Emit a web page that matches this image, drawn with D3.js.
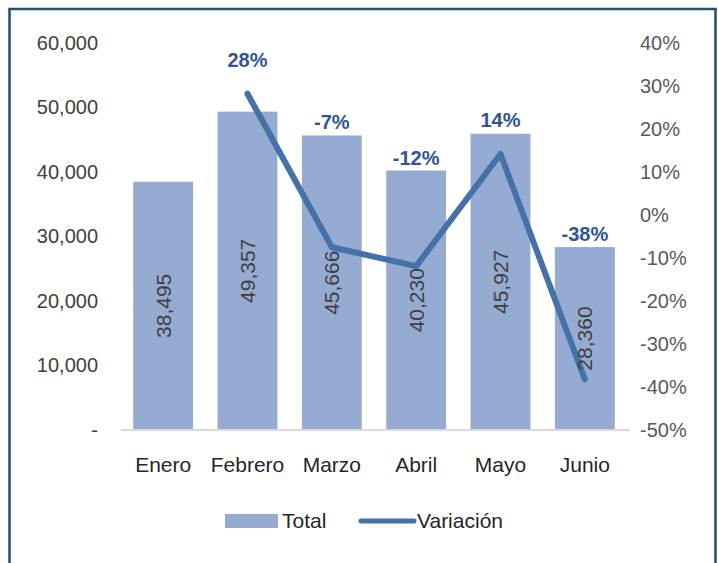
<!DOCTYPE html>
<html>
<head>
<meta charset="utf-8">
<script src="https://cdn.jsdelivr.net/npm/d3@7"></script>
<style>
  body { margin: 0; background: #fff; }
  svg text { font-family: "Liberation Sans", Arial, sans-serif; }
</style>
</head>
<body>
<div id="chart"></div>
<script>
// data
const MONTHS = ["Enero", "Febrero", "Marzo", "Abril", "Mayo", "Junio"];
const TOTALS = [38495, 49357, 45666, 40230, 45927, 28360];
const VARIATION = [null, 0.282, -0.075, -0.119, 0.142, -0.382];
const VARIATION_LABELS = ["", "28%", "-7%", "-12%", "14%", "-38%"];
const LEFT_TICKS = [0, 10000, 20000, 30000, 40000, 50000, 60000];
const RIGHT_TICKS = [-0.5, -0.4, -0.3, -0.2, -0.1, 0, 0.1, 0.2, 0.3, 0.4];

const W = 718, H = 563;
const margin = { top: 43, right: 91, bottom: 133, left: 121 };
const width = W - margin.left - margin.right;
const height = H - margin.top - margin.bottom;

const svg = d3.select("#chart").append("svg")
  .attr("width", W).attr("height", H);

// frame
svg.append("rect")
  .attr("x", 9.5).attr("y", 9)
  .attr("width", 706).attr("height", 580)
  .attr("fill", "none")
  .attr("stroke", "#1f4e79")
  .attr("stroke-width", 2.5);

const chart = svg.append("g").attr("transform", `translate(${margin.left},${margin.top})`);

// scales
const x = d3.scaleBand().domain(MONTHS).range([0, width]).paddingInner(0.29).paddingOuter(0.145);
const yLeft = d3.scaleLinear().domain([0, 60000]).range([height, 0]);
const yRight = d3.scaleLinear().domain([-0.5, 0.4]).range([height, 0]);

const rows = MONTHS.map((m, i) => ({ month: m, total: TOTALS[i], variation: VARIATION[i], label: VARIATION_LABELS[i] }));

// hyphen instead of unicode minus
const pct = (d) => `${Math.round(d * 100)}%`;

// left axis
const leftAxis = chart.append("g")
  .call(d3.axisLeft(yLeft).tickValues(LEFT_TICKS).tickSize(0).tickPadding(23)
    .tickFormat((d) => d === 0 ? "-" : d3.format(",")(d)));
leftAxis.select(".domain").remove();
leftAxis.selectAll("text").attr("font-size", 20).attr("fill", "#404040")
  .attr("font-family", "Liberation Sans, sans-serif");

// right axis
const rightAxis = chart.append("g")
  .attr("transform", `translate(${width},0)`)
  .call(d3.axisRight(yRight).tickValues(RIGHT_TICKS).tickSize(0).tickPadding(13)
    .tickFormat(pct));
rightAxis.select(".domain").remove();
rightAxis.selectAll("text").attr("font-size", 20).attr("fill", "#595959")
  .attr("font-family", "Liberation Sans, sans-serif");

// bars
chart.selectAll(".bar")
  .data(rows)
  .enter()
  .append("rect")
  .attr("class", "bar")
  .attr("x", (d) => x(d.month))
  .attr("y", (d) => yLeft(d.total))
  .attr("width", x.bandwidth())
  .attr("height", (d) => height - yLeft(d.total))
  .attr("fill", "#95abd1");

// baseline
chart.append("line")
  .attr("x1", 0).attr("x2", width + 3)
  .attr("y1", height).attr("y2", height)
  .attr("stroke", "#d9d9d9").attr("stroke-width", 2);

// x axis labels
const xAxis = chart.append("g")
  .attr("transform", `translate(0,${height})`)
  .call(d3.axisBottom(x).tickSize(0).tickPadding(27));
xAxis.select(".domain").remove();
xAxis.selectAll("text").attr("font-size", 21).attr("fill", "#262626")
  .attr("font-family", "Liberation Sans, sans-serif");

// line
const lineRows = rows.filter((d) => d.variation !== null);
const line = d3.line()
  .x((d) => x(d.month) + x.bandwidth() / 2)
  .y((d) => yRight(d.variation));

chart.append("path")
  .datum(lineRows)
  .attr("d", line)
  .attr("fill", "none")
  .attr("stroke", "#4472a8")
  .attr("stroke-width", 6)
  .attr("stroke-linecap", "round")
  .attr("stroke-linejoin", "round");

// bar value labels
chart.selectAll(".bar-label")
  .data(rows)
  .enter()
  .append("text")
  .attr("class", "bar-label")
  .attr("transform", (d) => {
    const cx = x(d.month) + x.bandwidth() / 2;
    const cy = (yLeft(d.total) + height) / 2;
    return `translate(${cx},${cy}) rotate(-90)`;
  })
  .attr("text-anchor", "middle")
  .attr("dy", "0.35em")
  .attr("font-size", 21)
  .attr("fill", "#404040")
  .text((d) => d3.format(",")(d.total));

// variation labels
chart.selectAll(".var-label")
  .data(lineRows)
  .enter()
  .append("text")
  .attr("class", "var-label")
  .attr("x", (d) => x(d.month) + x.bandwidth() / 2)
  .attr("y", (d) => Math.min(yLeft(d.total) - 6, yRight(d.variation) - 27))
  .attr("text-anchor", "middle")
  .attr("font-size", 20)
  .attr("font-weight", "bold")
  .attr("fill", "#2f5597")
  .text((d) => d.label);

// legend
const legend = svg.append("g");
legend.append("rect")
  .attr("x", 225).attr("y", 514).attr("width", 53).attr("height", 14)
  .attr("fill", "#95abd1");
legend.append("text")
  .attr("x", 282).attr("y", 528).attr("font-size", 21).attr("fill", "#262626")
  .text("Total");
legend.append("line")
  .attr("x1", 361).attr("x2", 414).attr("y1", 521).attr("y2", 521)
  .attr("stroke", "#4472a8").attr("stroke-width", 5).attr("stroke-linecap", "round");
legend.append("text")
  .attr("x", 417).attr("y", 528).attr("font-size", 21).attr("fill", "#262626")
  .text("Variación");
</script>
</body>
</html>
